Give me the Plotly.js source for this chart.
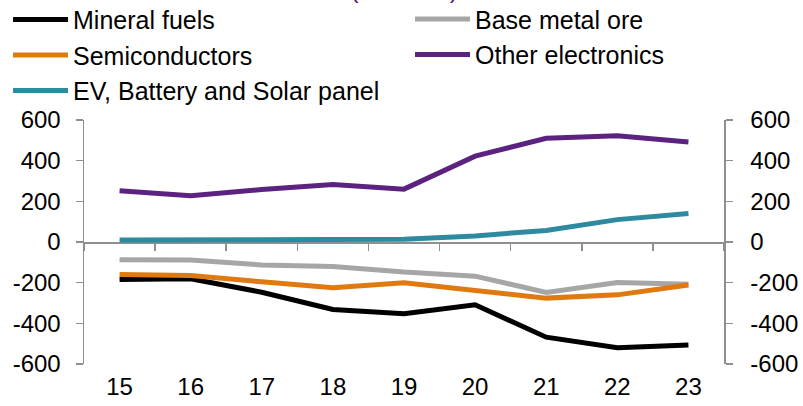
<!DOCTYPE html>
<html>
<head>
<meta charset="utf-8">
<script src="https://cdn.plot.ly/plotly-3.0.1.min.js"></script>
<style>
  html, body { margin: 0; padding: 0; background: #fff; }
  #chart { width: 803px; height: 406px; }
</style>
</head>
<body>
<div id="chart"></div>
<script>
// Years (two-digit labels) on the category axis
const years = ['15', '16', '17', '18', '19', '20', '21', '22', '23'];

// Trade balance by product group (US$ bn)
const mineralFuels      = [-185, -181, -247, -332, -353, -309, -468, -520, -506];
const baseMetalOre      = [-87, -88, -113, -120, -148, -168, -248, -199, -208];
const semiconductors    = [-160, -165, -196, -225, -201, -238, -276, -260, -211];
const otherElectronics  = [252, 227, 258, 283, 260, 422, 510, 523, 492];
const evBatterySolar    = [10, 10, 10, 10, 13, 30, 57, 110, 140];

const seriesNames  = ['Mineral fuels', 'Base metal ore', 'Semiconductors', 'Other electronics', 'EV, Battery and Solar panel'];
const seriesValues = [mineralFuels, baseMetalOre, semiconductors, otherElectronics, evBatterySolar];
const seriesColors = ['#000000', '#a6a6a6', '#e07a10', '#5c2280', '#2e8a9e'];
// Legend column for each series: left column and right column
const seriesLegend = ['legend', 'legend2', 'legend', 'legend2', 'legend'];

const yTicks = [-600, -400, -200, 0, 200, 400, 600];
const titleText = '(USD bn)';

const FONT = 'Liberation Sans, Arial, Helvetica, sans-serif';
const AXIS_GRAY = '#8f8f8f';

// The last series sits on the secondary axes, which share the primary ranges
const traces = seriesNames.map((name, i) => {
  const onSecondary = i === seriesNames.length - 1;
  return {
    type: 'scatter',
    mode: 'lines',
    name: name,
    x: years,
    y: seriesValues[i],
    xaxis: onSecondary ? 'x2' : 'x',
    yaxis: onSecondary ? 'y2' : 'y',
    legend: seriesLegend[i],
    line: { color: seriesColors[i], width: 5 },
    hoverinfo: 'x+y+name'
  };
});

const yAxisCommon = {
  range: [-600, 600],
  tickvals: yTicks,
  ticktext: yTicks.map(String),
  showline: true,
  linecolor: AXIS_GRAY,
  linewidth: 1.5,
  ticks: 'outside',
  ticklen: 7,
  tickwidth: 1.5,
  tickcolor: AXIS_GRAY,
  showgrid: false,
  zeroline: false,
  tickfont: { family: FONT, size: 24, color: '#000000' },
  ticklabelstandoff: 10,
  fixedrange: true
};

const legendCommon = {
  orientation: 'v',
  xref: 'container',
  yref: 'container',
  y: 0.72,
  xanchor: 'left',
  yanchor: 'bottom',
  itemwidth: 55,
  font: { family: FONT, size: 25, color: '#000000' },
  bgcolor: 'rgba(0,0,0,0)',
  traceorder: 'normal'
};

const layout = {
  width: 803,
  height: 406,
  margin: { l: 84, r: 79, t: 119.5, b: 42, autoexpand: false },
  paper_bgcolor: '#ffffff',
  plot_bgcolor: '#ffffff',
  font: { family: FONT, size: 24, color: '#000000' },
  showlegend: true,
  legend: Object.assign({}, legendCommon, { x: 0.01 }),
  legend2: Object.assign({}, legendCommon, { x: 0.5106, y: 0.72 + 36.5 / 406 }),
  xaxis: {
    type: 'category',
    categoryorder: 'array',
    categoryarray: years,
    range: [-0.5, 8.5],
    showline: false,
    showgrid: false,
    zeroline: false,
    ticks: '',
    tickfont: { family: FONT, size: 24, color: '#000000' },
    ticklabelstandoff: 6,
    fixedrange: true
  },
  // Horizontal axis line through zero with ticks between the years
  xaxis2: {
    type: 'category',
    categoryorder: 'array',
    categoryarray: years,
    range: [-0.5, 8.5],
    overlaying: 'x',
    anchor: 'free',
    position: 0.5,
    tickson: 'boundaries',
    showticklabels: false,
    showline: true,
    linecolor: AXIS_GRAY,
    linewidth: 1.5,
    ticks: 'outside',
    ticklen: 7,
    tickwidth: 1.5,
    tickcolor: AXIS_GRAY,
    showgrid: false,
    zeroline: false,
    layer: 'below traces',
    fixedrange: true
  },
  yaxis: Object.assign({}, yAxisCommon, { side: 'left' }),
  yaxis2: Object.assign({}, yAxisCommon, { overlaying: 'y', side: 'right', anchor: 'x', ticklabelstandoff: 13 }),
  annotations: [{
    text: titleText,
    xref: 'paper',
    yref: 'paper',
    x: 0.5,
    y: 1.468,
    xanchor: 'center',
    yanchor: 'bottom',
    showarrow: false,
    font: { family: FONT, size: 26, color: '#5c2280' }
  }]
};

Plotly.newPlot('chart', traces, layout, { displayModeBar: false, staticPlot: true });
</script>
</body>
</html>
